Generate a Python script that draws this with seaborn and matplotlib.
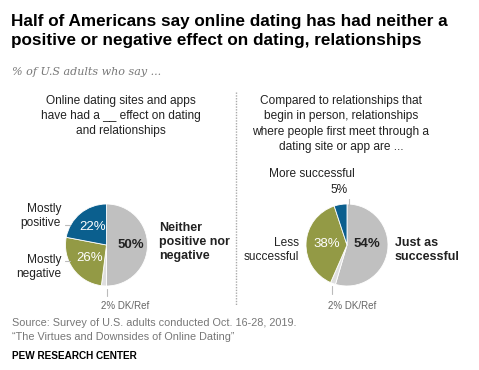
import matplotlib
matplotlib.use("Agg")
import matplotlib.pyplot as plt
import seaborn as sns

# Pew: effects of online dating (two pies)
effect_labels = ['Neither positive nor negative', 'DK/Ref', 'Mostly negative', 'Mostly positive']
effect_values = [50, 2, 26, 22]

success_labels = ['Just as successful', 'DK/Ref', 'Less successful', 'More successful']
success_values = [54, 2, 38, 5]

pie_colors = ['#c0c0c0', '#dedede', '#939a45', '#0b5f8e']

sns.set_theme(style="white")
plt.rcParams['font.family'] = ['Liberation Sans', 'DejaVu Sans']

W, H = 479, 370
fig = plt.figure(figsize=(W / 100, H / 100), dpi=100)


def fx(x):
    return x / W


def fy(y):
    return 1 - y / H


def pie_axes(cx, cy, r):
    ax = fig.add_axes([fx(cx - r), fy(cy + r), 2 * r / W, 2 * r / H])
    ax.set_xlim(-1, 1)
    ax.set_ylim(-1, 1)
    ax.set_axis_off()
    return ax


dark = '#222222'
grey_txt = '#666666'
body = 8.6

# title / subtitle
fig.text(fx(11), fy(31), "Half of Americans say online dating has had neither a\npositive or negative effect on dating, relationships",
         fontweight='bold', fontsize=12.3, color='black', va='center', linespacing=1.3)
fig.text(fx(12), fy(72), "% of U.S adults who say ...", family=['DejaVu Serif'], style='italic',
         fontsize=8, color='#777777', va='center')

# headers
fig.text(fx(121), fy(116), "Online dating sites and apps\nhave had a __ effect on dating\nand relationships",
         ha='center', va='center', fontsize=body, color=dark, linespacing=1.35)
fig.text(fx(341), fy(124), "Compared to relationships that\nbegin in person, relationships\nwhere people first meet through a\ndating site or app are ...",
         ha='center', va='center', fontsize=body, color=dark, linespacing=1.35)

# dotted divider
fig.add_artist(plt.Line2D([fx(236), fx(236)], [fy(92), fy(305)], color='#aaaaaa',
                          lw=1, linestyle=(0, (1, 1)), transform=fig.transFigure))

# left pie
ax1 = pie_axes(106.5, 245, 41)
ax1.pie(effect_values, colors=pie_colors, startangle=90, counterclock=False, radius=1,
        wedgeprops=dict(linewidth=0.6, edgecolor='white'))
ax1.set_xlim(-1, 1)
ax1.set_ylim(-1, 1)
ax1.text(-0.34, 0.45, f"{effect_values[3]}%", color='white', ha='center', va='center', fontsize=9.5)
ax1.text(-0.41, -0.32, f"{effect_values[2]}%", color='white', ha='center', va='center', fontsize=9.5)
ax1.text(0.6, 0.0, f"{effect_values[0]}%", color=dark, ha='center', va='center', fontsize=9.5, fontweight='bold')

fig.text(fx(61), fy(216), "Mostly\npositive", ha='right', va='center', fontsize=body, color=dark, linespacing=1.25)
fig.text(fx(61), fy(267), "Mostly\nnegative", ha='right', va='center', fontsize=body, color=dark, linespacing=1.25)
fig.add_artist(plt.Line2D([fx(65), fx(70)], [fy(225), fy(225)], color='#bbbbbb', lw=0.8))
fig.add_artist(plt.Line2D([fx(65), fx(70)], [fy(261), fy(261)], color='#bbbbbb', lw=0.8))
fig.text(fx(159), fy(242), "Neither\npositive nor\nnegative", ha='left', va='center', fontsize=9,
         fontweight='bold', color=dark, linespacing=1.25)
fig.add_artist(plt.Line2D([fx(107), fx(107)], [fy(289), fy(296)], color='#bbbbbb', lw=0.8))
fig.text(fx(125), fy(306), f"{effect_values[1]}% DK/Ref", ha='center', va='center', fontsize=7, color=grey_txt)

# right pie
ax2 = pie_axes(347, 245, 41)
ax2.pie(success_values, colors=pie_colors, startangle=90, counterclock=False, radius=1,
        wedgeprops=dict(linewidth=0.6, edgecolor='white'))
ax2.set_xlim(-1, 1)
ax2.set_ylim(-1, 1)
ax2.text(-0.49, 0.03, f"{success_values[2]}%", color='white', ha='center', va='center', fontsize=9.5)
ax2.text(0.49, 0.03, f"{success_values[0]}%", color=dark, ha='center', va='center', fontsize=9.5, fontweight='bold')

fig.text(fx(312), fy(174), "More successful", ha='center', va='center', fontsize=body, color=dark)
fig.text(fx(339), fy(190), f"{success_values[3]}%", ha='center', va='center', fontsize=body, color=dark)
fig.add_artist(plt.Line2D([fx(349), fx(349)], [fy(199), fy(205)], color='#bbbbbb', lw=0.8))
fig.text(fx(299), fy(250), "Less\nsuccessful", ha='right', va='center', fontsize=body, color=dark, linespacing=1.25)
fig.text(fx(395), fy(250), "Just as\nsuccessful", ha='left', va='center', fontsize=9,
         fontweight='bold', color=dark, linespacing=1.25)
fig.add_artist(plt.Line2D([fx(332), fx(332)], [fy(286), fy(294)], color='#bbbbbb', lw=0.8))
fig.text(fx(352), fy(306), f"{success_values[1]}% DK/Ref", ha='center', va='center', fontsize=7, color=grey_txt)

# footer
fig.text(fx(12), fy(330), "Source: Survey of U.S. adults conducted Oct. 16-28, 2019.\n\u201cThe Virtues and Downsides of Online Dating\u201d",
         ha='left', va='center', fontsize=7.8, color='#777777', linespacing=1.5)
fig.text(fx(12), fy(356), "PEW RESEARCH CENTER", ha='left', va='center', fontsize=7.2,
         fontweight='bold', color='black')

fig.savefig("out.png", dpi=100, facecolor='white')
